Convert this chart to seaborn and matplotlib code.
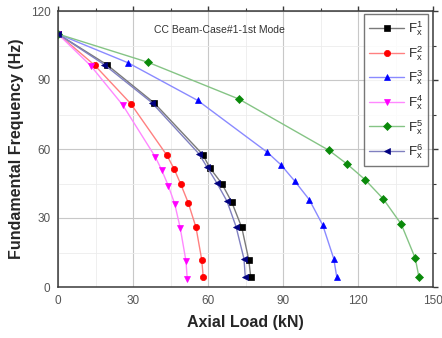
import matplotlib
matplotlib.use("Agg")
import matplotlib.pyplot as plt
import seaborn as sns
from matplotlib.ticker import MultipleLocator

# ---- data ----
labels = [r"$\mathregular{F_x^{1}}$", r"$\mathregular{F_x^{2}}$", r"$\mathregular{F_x^{3}}$",
          r"$\mathregular{F_x^{4}}$", r"$\mathregular{F_x^{5}}$", r"$\mathregular{F_x^{6}}$"]

fx1_load = [0, 19.5, 38.5, 57.9, 60.8, 65.5, 69.5, 73.5, 76.3, 77.1]
fx1_freq = [110, 96.7, 80.0, 57.6, 51.7, 45.0, 36.9, 25.9, 11.9, 4.2]

fx2_load = [0, 14.7, 29.1, 43.6, 46.5, 49.1, 52.1, 55.2, 57.5, 58.1]
fx2_freq = [110, 96.4, 79.7, 57.2, 51.2, 44.7, 36.6, 25.9, 11.8, 4.2]

fx3_load = [0, 28.0, 55.9, 83.7, 89.2, 94.8, 100.5, 105.9, 110.3, 111.5]
fx3_freq = [110, 97.5, 81.1, 58.6, 53.1, 45.9, 38.0, 26.9, 12.3, 4.4]

fx4_load = [0, 13.1, 25.9, 38.9, 41.5, 44.1, 46.7, 48.9, 51.2, 51.7]
fx4_freq = [110, 96.2, 79.1, 56.6, 50.8, 44.1, 36.1, 25.6, 11.2, 3.4]

fx5_load = [0, 36.0, 72.4, 108.4, 115.7, 122.9, 130.1, 137.3, 142.9, 144.4]
fx5_freq = [110, 97.7, 81.7, 59.4, 53.4, 46.6, 38.3, 27.3, 12.5, 4.2]

fx6_load = [0, 18.5, 37.5, 56.3, 59.7, 63.5, 67.6, 71.2, 74.4, 74.9]
fx6_freq = [110, 96.7, 80.2, 58.0, 52.0, 45.3, 37.3, 26.3, 12.2, 4.4]

x_ticks = [0, 30, 60, 90, 120, 150]
y_ticks = [0, 30, 60, 90, 120]

series = [
    (fx1_load, fx1_freq, "s", "#000000", "#7a7a7a"),
    (fx2_load, fx2_freq, "o", "#ff0000", "#ff8080"),
    (fx3_load, fx3_freq, "^", "#0000ff", "#8a8aff"),
    (fx4_load, fx4_freq, "v", "#ff00ff", "#ff88ff"),
    (fx5_load, fx5_freq, "D", "#0a8a0a", "#85c485"),
    (fx6_load, fx6_freq, "<", "#000080", "#8080c0"),
]

sns.set_style("white")
plt.rcParams["font.family"] = ["Liberation Sans", "DejaVu Sans"]
plt.rcParams["mathtext.fontset"] = "custom"
plt.rcParams["mathtext.rm"] = "Liberation Sans"

fig = plt.figure(figsize=(4.42, 3.38), dpi=100)
ax = fig.add_axes([58/442, 1-287/338, 375/442, 276/338])

for (xs, ys, mk, mc, lc), lab in zip(series, labels):
    ms = 3.9 if mk == "D" else 4.5
    sns.lineplot(x=xs, y=ys, ax=ax, sort=False, estimator=None, color=lc,
                 linewidth=1.0, marker=mk, markersize=ms, markerfacecolor=mc,
                 markeredgecolor=mc, markeredgewidth=0.5, label=lab)

ax.set_xlim(0, 150)
ax.set_ylim(0, 120)
ax.set_xticks(x_ticks)
ax.set_yticks(y_ticks)
ax.xaxis.set_minor_locator(MultipleLocator(15))
ax.yaxis.set_minor_locator(MultipleLocator(15))
ax.grid(True, which="major", color="#c8c8c8", linewidth=0.8)
ax.grid(True, which="minor", color="#ececec", linewidth=0.6)
ax.set_axisbelow(True)

for s in ax.spines.values():
    s.set_color("#3a3a3a")
    s.set_linewidth(1.1)

ax.tick_params(axis="both", which="major", direction="out", length=3.5, width=1,
               color="#3a3a3a", labelsize=8.5, labelcolor="#555555", pad=2,
               top=True, right=True)
ax.tick_params(axis="both", which="minor", direction="out", length=2, width=0.8,
               color="#3a3a3a", top=True, right=True)

ax.set_xlabel("Axial Load (kN)", fontsize=11.5, fontweight="bold", labelpad=6)
ax.set_ylabel("Fundamental Frequency (Hz)", fontsize=11.5, fontweight="bold", labelpad=5)

ax.text(38.4, 111.8, "CC Beam-Case#1-1st Mode", fontsize=7.5, color="#333333",
        ha="left", va="center")

leg = ax.legend(loc="upper right", bbox_to_anchor=(0.987, 0.989), fontsize=9.5,
                frameon=True, fancybox=False, edgecolor="#555555",
                handlelength=2.6, handletextpad=0.3, labelspacing=0.45,
                borderpad=0.4, borderaxespad=0)
leg.get_frame().set_linewidth(1.0)

fig.savefig("out.png", dpi=100)
